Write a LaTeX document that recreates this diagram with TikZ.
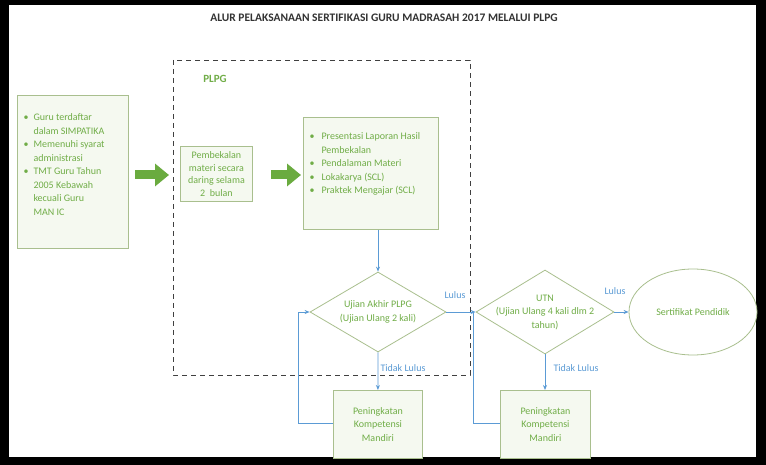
\documentclass[tikz,border=0pt]{standalone}
\usepackage{fontspec}
\setmainfont{Carlito}
\usetikzlibrary{shapes.geometric,arrows.meta}
\definecolor{gtxt}{HTML}{70AD47}
\definecolor{gbd}{HTML}{A9BF8E}
\definecolor{gfill}{HTML}{F5F9F0}
\definecolor{bl}{HTML}{5B9BD5}
\definecolor{bigarrow}{HTML}{6AAB3F}
\begin{document}
\begin{tikzpicture}[x=1pt,y=-1pt,
  txt/.style={text=gtxt,font=\fontsize{10}{13.5}\selectfont},
  boxn/.style={txt,draw=gbd,fill=gfill,line width=0.8pt,inner sep=0pt},
  dia/.style={txt,draw=gbd,fill=white,diamond,aspect=1.7,line width=0.8pt,inner sep=0pt},
  conn/.style={draw=bl,line width=0.8pt},
  arr/.style={conn,-{Stealth[length=5pt,width=4pt]}},
  lab/.style={text=bl,font=\fontsize{10}{12}\selectfont},
  fat/.style={bigarrow,line width=9pt,-{Triangle[length=14pt,width=22pt]}}]
\fill[black] (0,0) rectangle (766,465);
\fill[white] (9,5) rectangle (756,457);
\useasboundingbox (0,0) rectangle (766,465);
\node[font=\bfseries\fontsize{11.5}{13}\selectfont,text=black!80] (title) at (384,18) {ALUR PELAKSANAAN SERTIFIKASI GURU MADRASAH 2017 MELALUI PLPG};
\draw[dashed,line width=0.8pt,black!75,dash pattern=on 5pt off 4pt] (173,60) rectangle (470,375);
\node[font=\bfseries\fontsize{11}{13}\selectfont,text=gtxt] (plpg) at (215,79) {PLPG};
\node[boxn,minimum width=111pt,minimum height=153pt,anchor=north west] (req) at (17,95) {};
\node[txt,anchor=north west,align=left] (reqt) at (20,108) {%
\begin{tabular}{@{}l@{\hspace{5pt}}l@{}}
\textbullet & Guru terdaftar\\ & dalam SIMPATIKA\\
\textbullet & Memenuhi syarat\\ & administrasi\\
\textbullet & TMT Guru Tahun\\ & 2005 Kebawah\\ & kecuali Guru\\ & MAN IC
\end{tabular}};
\node[boxn,minimum width=72pt,minimum height=55pt,anchor=north west,align=center,font=\fontsize{10}{12.5}\selectfont] (pem) at (180,146) {Pembekalan\\materi secara\\daring selama\\2\ \ bulan};
\node[boxn,minimum width=135pt,minimum height=112pt,anchor=north west] (list) at (303,117) {};
\node[txt,anchor=north west,align=left] (listt) at (306,127) {%
\begin{tabular}{@{}l@{\hspace{7pt}}l@{}}
\textbullet & Presentasi Laporan Hasil\\ & Pembekalan\\
\textbullet & Pendalaman Materi\\
\textbullet & Lokakarya (SCL)\\
\textbullet & Praktek Mengajar (SCL)
\end{tabular}};
\coordinate (a1s) at (135,175); \coordinate (a1e) at (169,175);
\draw[fat] (a1s) -- (a1e);
\coordinate (a2s) at (271,175); \coordinate (a2e) at (301,175);
\draw[fat] (a2s) -- (a2e);
\node[dia,minimum width=136pt,minimum height=80pt] (d1) at (378,312) {};
\node[txt,align=center] (d1t) at (d1.center) {Ujian Akhir PLPG\\(Ujian Ulang 2 kali)};
\node[dia,minimum width=138pt,minimum height=84pt] (d2) at (545,312) {};
\node[txt,align=center] (d2t) at (d2.center) {UTN\\(Ujian Ulang 4 kali dlm 2\\tahun)};
\node[txt,draw=gbd,fill=white,ellipse,line width=0.8pt,minimum width=128pt,minimum height=86pt] (cert) at (693,312) {Sertifikat Pendidik};
\node[boxn,minimum width=89pt,minimum height=68pt,anchor=north west,align=center] (pk1) at (333,390) {Peningkatan\\Kompetensi\\Mandiri};
\node[boxn,minimum width=90pt,minimum height=68pt,anchor=north west,align=center] (pk2) at (500,390) {Peningkatan\\Kompetensi\\Mandiri};
\draw[arr] (list.south -| d1.north) -- (d1.north);
\draw[arr] (d1.east) -- (d2.west);
\node[lab] (l1) at (455,295) {Lulus};
\draw[arr] (d2.east) -- (cert.west);
\node[lab] (l2) at (615,291) {Lulus};
\draw[arr] (d1.south) -- (pk1.north);
\node[lab,anchor=west] (t1) at (377,368) {Tidak Lulus};
\draw[arr] (d2.south) -- (d2.south |- pk2.north);
\node[lab,anchor=west] (t2) at (550,368) {Tidak Lulus};
\coordinate (lp1) at (298,423);
\draw[arr] (pk1.west |- lp1) -- (lp1) -- (298,312) -- (d1.west);
\coordinate (lp2) at (473,423);
\draw[conn] (pk2.west |- lp2) -- (lp2) -- (473,312);
\end{tikzpicture}
\end{document}
